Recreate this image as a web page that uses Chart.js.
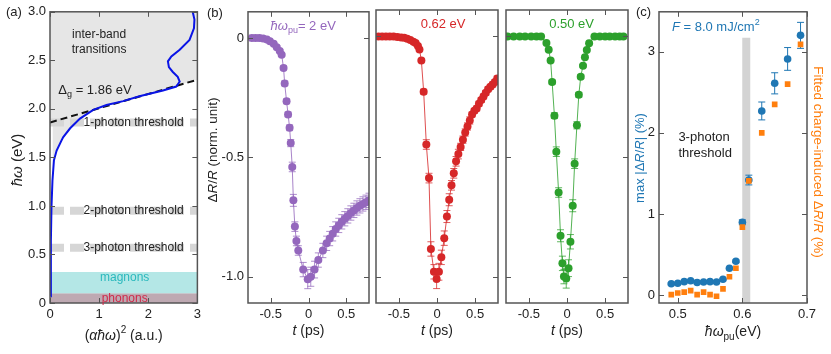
<!DOCTYPE html>
<html>
<head>
<meta charset="utf-8">
<script src="https://cdn.jsdelivr.net/npm/chart.js@4.4.0/dist/chart.umd.min.js"></script>
<style>
  body { margin: 0; background: #fff; }
  #wrap { position: relative; width: 831px; height: 354px; overflow: hidden; }
  canvas { position: absolute; top: 0; }
</style>
</head>
<body>
<div id="wrap">
  <canvas id="pa" width="205" height="354" style="left:0px"></canvas>
  <canvas id="pb1" width="172" height="354" style="left:200px"></canvas>
  <canvas id="pb2" width="128" height="354" style="left:373px"></canvas>
  <canvas id="pb3" width="128" height="354" style="left:503px"></canvas>
  <canvas id="pc" width="231" height="354" style="left:600px"></canvas>
</div>
<script>
// ---- (a) absorption edge: photon energy (eV) vs (a*hw)^2
const absE = [0.07, 0.3, 0.64, 0.99, 1.26, 1.47, 1.57, 1.68, 1.71, 1.80, 1.90, 1.99, 2.04, 2.08, 2.13, 2.19, 2.23, 2.28, 2.33, 2.38, 2.43, 2.49, 2.54, 2.61, 2.71, 2.83, 2.92, 3.0]
const absA = [0.015, 0.016, 0.02, 0.03, 0.05, 0.08, 0.135, 0.24, 0.27, 0.41, 0.61, 0.88, 1.15, 1.49, 1.82, 2.30, 2.57, 2.64, 2.60, 2.50, 2.42, 2.40, 2.47, 2.64, 2.84, 2.93, 2.94, 2.905]
const tangentX = [0, 3]
const tangentY = [1.86, 2.30]
const thresholdE = [1.86, 0.95, 0.57]
const thresholdText = ['1-photon threshold', '2-photon threshold', '3-photon threshold']
const magnonRange = [0.10, 0.32]
const phononRange = [0, 0.10]
const aXTicks = [0, 1, 2, 3]
const aYTicks = [0, 0.5, 1.0, 1.5, 2.0, 2.5, 3.0]

// ---- (b) normalised transient reflectivity, time in ps
const t2eV = [-0.75, -0.70, -0.65, -0.60, -0.55, -0.51, -0.46, -0.42, -0.38, -0.355, -0.33, -0.315, -0.29, -0.27, -0.25, -0.235, -0.215, -0.20, -0.18, -0.16, -0.135, -0.07, -0.01, 0.03, 0.08, 0.13, 0.19, 0.24, 0.28, 0.32, 0.36, 0.40, 0.44, 0.48, 0.52, 0.56, 0.60, 0.64, 0.68, 0.72, 0.76, 0.80]
const r2eV = [0, 0, 0, -0.002, -0.006, -0.013, -0.024, -0.038, -0.054, -0.07, -0.125, -0.19, -0.265, -0.32, -0.376, -0.44, -0.54, -0.68, -0.79, -0.85, -0.89, -0.97, -1.01, -1.0, -0.97, -0.93, -0.89, -0.86, -0.84, -0.82, -0.80, -0.785, -0.77, -0.757, -0.745, -0.733, -0.722, -0.712, -0.703, -0.695, -0.688, -0.68]
const e2eV = [0, 0, 0, 0, 0, 0, 0.005, 0.005, 0.005, 0.005, 0.008, 0.01, 0.01, 0.01, 0.012, 0.015, 0.02, 0.025, 0.02, 0.02, 0.02, 0.03, 0.04, 0.04, 0.035, 0.03, 0.03, 0.03, 0.03, 0.03, 0.03, 0.03, 0.03, 0.03, 0.03, 0.03, 0.03, 0.03, 0.03, 0.03, 0.03, 0.03]

const t062 = [-0.77, -0.72, -0.67, -0.62, -0.57, -0.52, -0.47, -0.43, -0.39, -0.35, -0.31, -0.28, -0.25, -0.23, -0.205, -0.175, -0.14, -0.105, -0.08, -0.04, -0.005, 0.025, 0.057, 0.095, 0.13, 0.16, 0.19, 0.22, 0.25, 0.28, 0.31, 0.34, 0.37, 0.40, 0.43, 0.46, 0.49, 0.52, 0.55, 0.58, 0.61, 0.64, 0.67, 0.70, 0.73, 0.76, 0.79]
const r062 = [0, 0, 0, 0, 0, -0.002, -0.004, -0.006, -0.01, -0.015, -0.022, -0.027, -0.04, -0.054, -0.1, -0.23, -0.45, -0.59, -0.885, -0.98, -1.01, -0.98, -0.92, -0.84, -0.75, -0.68, -0.62, -0.57, -0.52, -0.49, -0.46, -0.43, -0.40, -0.375, -0.35, -0.325, -0.31, -0.30, -0.28, -0.265, -0.25, -0.235, -0.22, -0.21, -0.20, -0.19, -0.175]
const e062 = [0, 0, 0, 0, 0, 0, 0, 0, 0, 0, 0, 0, 0, 0, 0.005, 0.01, 0.02, 0.02, 0.03, 0.03, 0.04, 0.035, 0.03, 0.03, 0.025, 0.025, 0.02, 0.02, 0.02, 0.02, 0.015, 0.015, 0.015, 0.015, 0.015, 0.01, 0.01, 0.01, 0.01, 0.01, 0.01, 0.01, 0.01, 0.01, 0.01, 0.01, 0.01]

const t050 = [-0.78, -0.70, -0.62, -0.55, -0.47, -0.40, -0.34, -0.27, -0.24, -0.215, -0.195, -0.165, -0.14, -0.11, -0.085, -0.06, -0.04, -0.01, 0.02, 0.045, 0.075, 0.10, 0.13, 0.155, 0.18, 0.21, 0.235, 0.26, 0.29, 0.36, 0.43, 0.50, 0.56, 0.63, 0.69, 0.74]
const r050 = [0, 0, 0, 0, 0, 0, 0, -0.027, -0.055, -0.10, -0.19, -0.33, -0.48, -0.65, -0.83, -0.945, -1.0, -1.008, -0.965, -0.855, -0.705, -0.53, -0.37, -0.243, -0.168, -0.122, -0.087, -0.057, -0.028, 0, 0, 0, 0, 0, 0, 0]
const e050 = [0, 0, 0, 0, 0, 0, 0, 0, 0, 0.005, 0.008, 0.012, 0.02, 0.02, 0.025, 0.03, 0.03, 0.04, 0.035, 0.03, 0.025, 0.02, 0.015, 0.01, 0.008, 0.005, 0, 0, 0, 0, 0, 0, 0, 0, 0, 0]
const bXTicks = [-0.5, 0, 0.5]
const bYTicks = [0, -0.5, -1.0]

// ---- (c) pump photon energy dependence
const pumpE = [0.49, 0.50, 0.51, 0.52, 0.53, 0.54, 0.55, 0.56, 0.57, 0.58, 0.59, 0.60, 0.61, 0.63, 0.65, 0.67, 0.69]
const maxDR = [0.143, 0.15, 0.17, 0.18, 0.16, 0.165, 0.17, 0.165, 0.20, 0.335, 0.42, 0.90, 1.42, 2.27, 2.61, 2.91, 3.20]
const maxDRerr = [0.01, 0.01, 0.01, 0.01, 0.01, 0.01, 0.01, 0.01, 0.01, 0.01, 0.015, 0.03, 0.06, 0.11, 0.13, 0.14, 0.16]
const fitDR = [0.01, 0.03, 0.04, 0.06, 0.01, 0.04, 0.01, -0.01, 0.08, 0.23, 0.335, 0.84, 1.41, 2.0, 2.35, 2.6, 3.09]
const threePhotonBand = [0.606, -0.09, 3.17]
const cXTicks = [0.5, 0.6, 0.7]
const cYTicks = [0, 1, 2, 3]

const PURPLE = '#9467bd', RED = '#d62728', GREEN = '#2ca02c', BLUE = '#1f77b4', ORANGE = '#ff7f0e'
const FONT = "'Liberation Sans', Arial, Helvetica, sans-serif"

Chart.defaults.font.family = FONT
Chart.defaults.font.size = 13
Chart.defaults.color = '#222'

function pts(xs, ys) {
    return xs.map((x, i) => ({x: x, y: ys[i]}))
}

// text with *italic*, _{sub} and ^{sup} runs
function parseRich(s) {
    let runs = []
    let it = false
    let i = 0
    let buf = ''
    const flush = () => { if (buf) runs.push({t: buf, it: it}); buf = '' }
    while (i < s.length) {
        let ch = s[i]
        if (ch === '*') { flush(); it = !it; i++; continue }
        if ((ch === '_' || ch === '^') && s[i + 1] === '{') {
            flush()
            let end = s.indexOf('}', i)
            runs.push({t: s.slice(i + 2, end), it: it, sub: ch === '_', sup: ch === '^'})
            i = end + 1
            continue
        }
        buf += ch
        i++
    }
    flush()
    return runs
}

function drawRich(ctx, runs, x, y, o) {
    const size = o.size || 13
    const fontOf = r => (r.it ? 'italic ' : '') + ((r.sub || r.sup) ? Math.round(size * 0.72) : size) + 'px ' + FONT
    ctx.save()
    ctx.translate(x, y)
    if (o.rot) ctx.rotate(o.rot * Math.PI / 180)
    let w = 0
    for (const r of runs) { ctx.font = fontOf(r); w += ctx.measureText(r.t).width }
    let cx = o.align === 'left' ? 0 : -w / 2
    ctx.fillStyle = o.color || '#222'
    ctx.textBaseline = 'middle'
    ctx.textAlign = 'left'
    for (const r of runs) {
        ctx.font = fontOf(r)
        let dy = r.sub ? size * 0.35 : (r.sup ? -size * 0.4 : 0)
        ctx.fillText(r.t, cx, dy)
        cx += ctx.measureText(r.t).width
    }
    ctx.restore()
}

function textLayer(items) {
    return {
        id: 'textLayer',
        afterDraw(chart) {
            for (const item of items) {
                let p = item.at(chart)
                drawRich(chart.ctx, parseRich(item.text), p[0], p[1], item)
            }
        }
    }
}

const atData = (xv, yv) => c => [c.scales.x.getPixelForValue(xv), c.scales.y.getPixelForValue(yv)]
const atPx = (x, y) => () => [x, y]
const atBottom = (dy) => c => [(c.chartArea.left + c.chartArea.right) / 2, c.chartArea.bottom + dy]

// frame with inward tick marks on all four sides
const frameTicks = {
    id: 'frameTicks',
    afterDatasetsDraw(chart) {
        const ctx = chart.ctx
        const a = chart.chartArea
        const x = chart.scales.x
        const y = chart.scales.y
        ctx.save()
        ctx.strokeStyle = '#555'
        ctx.lineWidth = 1
        ctx.beginPath()
        for (const t of x.ticks) {
            let px = Math.round(x.getPixelForValue(t.value)) + 0.5
            ctx.moveTo(px, a.bottom); ctx.lineTo(px, a.bottom - 5)
            ctx.moveTo(px, a.top); ctx.lineTo(px, a.top + 5)
        }
        for (const t of y.ticks) {
            let py = Math.round(y.getPixelForValue(t.value)) + 0.5
            ctx.moveTo(a.left, py); ctx.lineTo(a.left + 5, py)
            ctx.moveTo(a.right, py); ctx.lineTo(a.right - 5, py)
        }
        ctx.stroke()
        ctx.lineWidth = 1.5
        ctx.strokeRect(a.left, a.top, a.right - a.left, a.bottom - a.top)
        ctx.restore()
    }
}

// vertical error bars from dataset.errs
const errorBars = {
    id: 'errorBars',
    beforeDatasetDraw(chart, args) {
        const ds = chart.data.datasets[args.index]
        if (!ds.errs) return
        const ctx = chart.ctx
        const a = chart.chartArea
        const ys = chart.scales.y
        ctx.save()
        ctx.beginPath()
        ctx.rect(a.left, a.top, a.right - a.left, a.bottom - a.top)
        ctx.clip()
        ctx.strokeStyle = ds.errColor || ds.borderColor
        ctx.lineWidth = 1
        ctx.beginPath()
        args.meta.data.forEach((p, i) => {
            let e = ds.errs[i]
            if (!e) return
            let v = ds.data[i].y
            let y1 = ys.getPixelForValue(v + e)
            let y2 = ys.getPixelForValue(v - e)
            ctx.moveTo(p.x, y1); ctx.lineTo(p.x, y2)
            ctx.moveTo(p.x - 3.5, y1); ctx.lineTo(p.x + 3.5, y1)
            ctx.moveTo(p.x - 3.5, y2); ctx.lineTo(p.x + 3.5, y2)
        })
        ctx.stroke()
        ctx.restore()
    }
}

function axis(min, max, ticks, fmt, size, showLabels) {
    return {
        type: 'linear',
        min: min,
        max: max,
        grid: {display: false, drawTicks: false},
        border: {display: false},
        ticks: {display: showLabels, padding: 4, color: '#222', font: {size: 13}, autoSkip: false, maxRotation: 0,
            callback: v => fmt(v)},
        afterBuildTicks: s => { s.ticks = ticks.map(v => ({value: v})) },
        afterFit: s => { if (s.isHorizontal()) s.height = size; else s.width = size }
    }
}

function options(xs, ys, pad) {
    return {
        responsive: false,
        animation: false,
        layout: {padding: pad, autoPadding: false},
        plugins: {legend: {display: false}, tooltip: {enabled: false}},
        elements: {line: {tension: 0}},
        scales: {x: xs, y: ys}
    }
}

const oneDec = v => v === 0 ? '0' : v.toFixed(1)

// ---------------- panel (a)
const curvePts = pts(absA, absE)
const lowerBranch = curvePts.filter(p => p.y >= 1.2 && p.y <= 2.28)
const GRAY = '#e6e6e6'
const BAND = '#d6d6d6'

function bandLine(level) {
    return {data: [{x: 0, y: level}, {x: 3, y: level}], borderColor: BAND, borderWidth: 8, borderDash: [14, 6],
        borderCapStyle: 'butt', pointRadius: 0, fill: false}
}

new Chart(document.getElementById('pa'), {
    type: 'line',
    data: {
        datasets: [
            {data: curvePts, borderColor: '#0a14e6', borderWidth: 2, pointRadius: 0, fill: false},
            {data: pts(tangentX, tangentY), borderColor: '#111', borderWidth: 2, borderDash: [7, 4], pointRadius: 0, fill: false},
            bandLine(thresholdE[0]),
            bandLine(thresholdE[1]),
            bandLine(thresholdE[2]),
            {data: pts(tangentX, tangentY), borderWidth: 0, pointRadius: 0, backgroundColor: GRAY, fill: 'end'},
            {data: lowerBranch, borderWidth: 0, pointRadius: 0, fill: {target: 5, above: 'rgba(0,0,0,0)', below: GRAY}},
            {data: [{x: 0, y: magnonRange[1]}, {x: 3, y: magnonRange[1]}], borderWidth: 0, pointRadius: 0,
                backgroundColor: '#b4e7e6', fill: {value: magnonRange[0]}},
            {data: [{x: 0, y: phononRange[1]}, {x: 3, y: phononRange[1]}], borderWidth: 0, pointRadius: 0,
                backgroundColor: '#bea9b2', fill: {value: phononRange[0]}}
        ]
    },
    options: options(axis(0, 3, aXTicks, v => String(v), 51, true), axis(0, 3, aYTicks, oneDec, 50, true),
        {top: 10, right: 7, left: 0, bottom: 0}),
    plugins: [frameTicks, textLayer([
        {text: '(a)', at: atPx(6, 12), align: 'left'},
        {text: '*ħω* (eV)', at: atPx(18, 160), rot: -90, size: 15},
        {text: '(*αħω*)^{2} (a.u.)', at: atBottom(33), size: 14},
        {text: 'inter-band', at: atData(1.0, 2.76), size: 12},
        {text: 'transitions', at: atData(1.0, 2.61), size: 12},
        {text: 'Δ_{g} = 1.86 eV', at: atData(0.17, 2.19), align: 'left'},
        {text: thresholdText[0], at: atData(1.7, thresholdE[0]), size: 12},
        {text: thresholdText[1], at: atData(1.7, thresholdE[1]), size: 12},
        {text: thresholdText[2], at: atData(1.7, thresholdE[2]), size: 12},
        {text: 'magnons', at: atData(1.52, 0.26), size: 12, color: '#2bb9bd'},
        {text: 'phonons', at: atData(1.52, 0.045), size: 12, color: '#cf2b4b'}
    ])]
})

// ---------------- panel (b)
function transient(id, t, r, e, color, label, labelX, first) {
    let xs = axis(-0.8, 0.8, bXTicks, v => v === 0 ? '0' : String(v), 51, true)
    let ys = axis(-1.11, 0.11, bYTicks, oneDec, first ? 48 : 3, first)
    let texts = [
        {text: '*t* (ps)', at: atBottom(28), size: 14},
        {text: label, at: atData(labelX, 0.05), color: color}
    ]
    if (first) {
        texts.push({text: '(b)', at: atPx(7, 13), align: 'left'})
        texts.push({text: 'Δ*R*/*R* (norm. unit)', at: atPx(13, 150), rot: -90, size: 13.5})
    }
    new Chart(document.getElementById(id), {
        type: 'line',
        data: {
            datasets: [{
                data: pts(t, r), errs: e, errColor: color + 'c0',
                borderColor: color + 'd0', borderWidth: 1, pointRadius: 4, pointBorderWidth: 0,
                pointBackgroundColor: color, fill: false
            }]
        },
        options: options(xs, ys, {top: 10, right: 3, left: 0, bottom: 0}),
        plugins: [errorBars, frameTicks, textLayer(texts)]
    })
}

transient('pb1', t2eV, r2eV, e2eV, PURPLE, '*ħω*_{pu}= 2 eV', -0.07, true)
transient('pb2', t062, r062, e062, RED, '0.62 eV', 0.08, false)
transient('pb3', t050, r050, e050, GREEN, '0.50 eV', 0.06, false)

// ---------------- panel (c)
new Chart(document.getElementById('pc'), {
    type: 'line',
    data: {
        datasets: [
            {data: pts(pumpE, fitDR), showLine: false, pointStyle: 'rect', pointRadius: 4, pointBorderWidth: 0,
                pointBackgroundColor: ORANGE, borderColor: ORANGE},
            {data: pts(pumpE, maxDR), errs: maxDRerr, showLine: false, pointRadius: 3.8, pointBorderWidth: 0,
                pointBackgroundColor: BLUE, borderColor: BLUE},
            {data: [{x: threePhotonBand[0], y: threePhotonBand[1]}, {x: threePhotonBand[0], y: threePhotonBand[2]}],
                borderColor: '#d3d3d3', borderWidth: 8, borderCapStyle: 'butt', pointRadius: 0, fill: false}
        ]
    },
    options: options(axis(0.471, 0.7, cXTicks, v => v.toFixed(1), 51, true), axis(-0.093, 3.49, cYTicks, v => String(v), 59, true),
        {top: 10, right: 24, left: 0, bottom: 0}),
    plugins: [errorBars, frameTicks, textLayer([
        {text: '(c)', at: atPx(36, 12), align: 'left'},
        {text: 'max |Δ*R*/*R*| (%)', at: atPx(40, 158), rot: -90, color: BLUE},
        {text: 'Fitted charge-induced Δ*R*/*R* (%)', at: atPx(218, 162), rot: 90, color: ORANGE, size: 13.5},
        {text: '*ħω*_{pu}(eV)', at: atBottom(29), size: 14},
        {text: '*F* = 8.0 mJ/cm^{2}', at: atData(0.491, 3.30), align: 'left', color: BLUE},
        {text: '3-photon', at: atData(0.501, 1.94), align: 'left'},
        {text: 'threshold', at: atData(0.501, 1.745), align: 'left'}
    ])]
})
</script>
</body>
</html>
